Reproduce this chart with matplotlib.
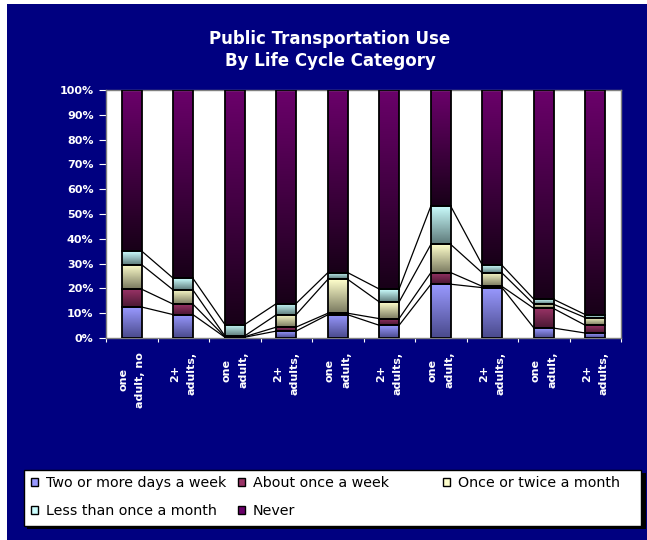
import numpy as np
import matplotlib
matplotlib.use("Agg")
import matplotlib.pyplot as plt
from matplotlib.patches import Rectangle
from matplotlib.colors import LinearSegmentedColormap

# ---------------- data ----------------
categories = ["one\nadult, no", "2+\nadults,", "one\nadult,", "2+\nadults,", "one\nadult,",
              "2+\nadults,", "one\nadult,", "2+\nadults,", "one\nadult,", "2+\nadults,"]
series_names = ["Two or more days a week", "About once a week", "Once or twice a month",
                "Less than once a month", "Never"]
two_or_more = [12.5, 9.4, 0.3, 2.8, 9.4, 5.1, 21.7, 20.3, 4.0, 2.0]
once_week = [7.2, 4.2, 0.2, 1.6, 0.6, 2.7, 4.7, 0.5, 7.9, 3.1]
once_twice_month = [9.9, 5.7, 0.3, 5.0, 13.7, 6.7, 11.4, 5.4, 1.7, 3.1]
less_than_month = [5.5, 4.7, 4.6, 4.5, 2.7, 5.2, 15.5, 3.1, 2.0, 1.2]
never = [64.9, 76.0, 94.6, 86.1, 73.6, 80.3, 46.7, 70.7, 84.4, 90.6]
y_ticks = [0, 10, 20, 30, 40, 50, 60, 70, 80, 90, 100]
y_tick_labels = [f"{v}%" for v in y_ticks]

series = [two_or_more, once_week, once_twice_month, less_than_month, never]
top_colors = ["#9999ff", "#993366", "#ffffcc", "#ccffff", "#6a006a"]
bottom_colors = ["#4a4a8c", "#4a1833", "#7a7a60", "#5e7a7a", "#180018"]

NAVY = "#000080"
W, H = 647, 540
fig = plt.figure(figsize=(W / 100, H / 100), dpi=100, facecolor="white")
fig.patches.append(Rectangle((7 / W, 0), 1 - 7 / W, 1 - 4 / H, transform=fig.transFigure,
                             facecolor=NAVY, edgecolor="none", zorder=-10))

ax = fig.add_axes([106 / W, 1 - 338 / H, (621 - 106) / W, (338 - 90) / H])
ax.set_facecolor("white")

data = np.array(series, dtype=float)
totals = data.sum(axis=0)
data = data / totals * 100.0
n = data.shape[1]
x = np.arange(n)
bw = 0.38
cum = np.vstack([np.zeros(n), np.cumsum(data, axis=0)])

grad = np.linspace(1, 0, 64).reshape(-1, 1)
for s in range(len(series)):
    cmap = LinearSegmentedColormap.from_list(f"c{s}", [bottom_colors[s], top_colors[s]])
    bars = ax.bar(x, data[s], bw, bottom=cum[s], facecolor="none", edgecolor="black",
                  linewidth=1.3, zorder=3, label=series_names[s])
    for i, b in enumerate(bars):
        lo, hi = cum[s][i], cum[s + 1][i]
        if hi - lo <= 0:
            continue
        ax.imshow(grad, cmap=cmap, vmin=0, vmax=1, aspect="auto", interpolation="bilinear",
                  extent=[x[i] - bw / 2, x[i] + bw / 2, lo, hi], zorder=2)

# series lines
for s in range(1, len(series)):
    for i in range(n - 1):
        ax.plot([x[i] + bw / 2, x[i + 1] - bw / 2], [cum[s][i], cum[s][i + 1]],
                color="black", linewidth=0.9, zorder=4)

ax.set_xlim(-0.5, n - 0.5)
ax.set_ylim(0, 100)
ax.set_yticks(y_ticks)
ax.set_yticklabels(y_tick_labels, color="white", fontsize=8, fontweight="bold")
ax.tick_params(axis="y", length=5, color="white", pad=4)

ax.set_xticks(np.arange(n + 1) - 0.5)
ax.set_xticklabels([])
ax.tick_params(axis="x", which="major", length=3, color="white", direction="out")
ax.set_xticks(x, minor=True)
ax.set_xticklabels(categories, minor=True, rotation=90, color="white", fontsize=8,
                   fontweight="bold", va="top", ha="center", multialignment="center",
                   linespacing=1.9)
ax.tick_params(axis="x", which="minor", length=0, pad=10)
for sp in ax.spines.values():
    sp.set_color("#808080")
    sp.set_linewidth(1)

fig.text(330 / W, 1 - 50 / H, "Public Transportation Use\nBy Life Cycle Category",
         color="white", fontsize=12, fontweight="bold", ha="center", va="center",
         linespacing=1.35)

# legend frame with shadow
fig.patches.append(Rectangle((27 / W, 1 - 529 / H), (643 - 24) / W, (526 - 470) / H,
                             transform=fig.transFigure, facecolor="black",
                             edgecolor="none", zorder=1))
fig.patches.append(Rectangle((24 / W, 1 - 526 / H), (641 - 24) / W, (526 - 470) / H,
                             transform=fig.transFigure, facecolor="white",
                             edgecolor="black", linewidth=1, zorder=2))

handles = [Rectangle((0, 0), 1, 1, facecolor=c, edgecolor="black", linewidth=1)
           for c in top_colors]
cols = [[0, 3], [1, 4], [2]]
col_x = [31, 238, 443]
for cidx, members in zip(col_x, cols):
    leg = fig.legend([handles[m] for m in members], [series_names[m] for m in members],
                     loc="upper left", bbox_to_anchor=(cidx / W, 1 - 476 / H), ncol=1,
                     frameon=False, fontsize=10.3, handlelength=0.52, handleheight=0.52,
                     handletextpad=0.5, labelspacing=0.97, borderpad=0, borderaxespad=0)
    leg.set_zorder(5)
    for t in leg.get_texts():
        t.set_color("black")

fig.savefig("out.png", dpi=100, facecolor=fig.get_facecolor())
